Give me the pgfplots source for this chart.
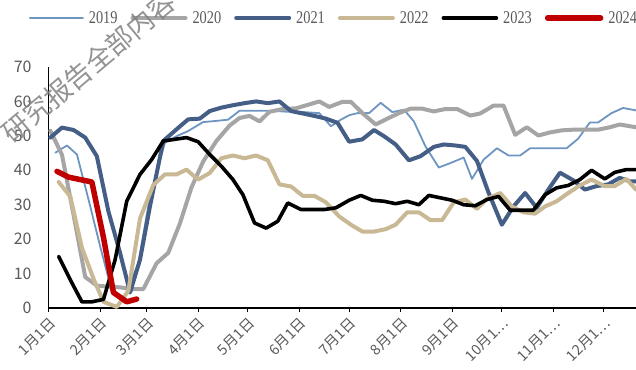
\documentclass[border=0pt]{standalone}
\usepackage{fontspec}
\usepackage{graphicx}
\usepackage{pgfplots}
\pgfplotsset{compat=1.18}
\setmainfont{Liberation Serif}
\newfontfamily\cjk{Noto Sans CJK SC}

\definecolor{cA}{HTML}{6E95C2}
\definecolor{cB}{HTML}{A5A5A5}
\definecolor{cC}{HTML}{445E86}
\definecolor{cD}{HTML}{C8B994}
\definecolor{cE}{HTML}{000000}
\definecolor{cF}{HTML}{C00000}
\definecolor{labelgrey}{HTML}{595959}

\begin{document}
\begin{tikzpicture}
\useasboundingbox (-48.7bp,-62bp) rectangle (587.3bp,308bp);
\begin{axis}[
  at={(0,0)}, anchor=south west,
  scale only axis, width=587.3bp, height=241bp,
  xmin=0, xmax=353.8, ymin=0, ymax=70,
  clip=false,
  axis x line*=bottom, axis y line*=left,
  axis line style={-, black, line width=1.3bp},
  xtick={0,31,59,90,120,151,181,212,243,273,304,334},
  xticklabels={1月1日,2月1日,3月1日,4月1日,5月1日,6月1日,7月1日,8月1日,9月1日,10月1…,11月1…,12月1…},
  xticklabel style={rotate=45, anchor=east, inner sep=0pt, yshift=-9bp, xshift=-3bp,
    font=\cjk\fontsize{14.5}{14.5}\selectfont, text=labelgrey},
  x tick style={black, line width=1.1bp},
  tick align=outside, major tick length=4bp,
  ytick={0,10,...,70},
  y tick style={draw=none},
  yticklabel style={inner sep=0pt, xshift=-13bp,
    font=\cjk\fontsize{16}{16}\selectfont, text=labelgrey},
  /pgf/number format/assume math mode=true,
  every axis plot/.append style={line join=round, line cap=round, mark=none},
  legend columns=6,
  legend style={at={(-0.0335,1.203)}, anchor=west, draw=none, fill=none,
    inner sep=0pt, outer sep=0pt,
    nodes={inner sep=0pt, text=labelgrey},
    font=\fontsize{18}{18}\selectfont,
    /tikz/every odd column/.append style={column sep=5bp},
    /tikz/every even column/.append style={column sep=13bp}},
  legend image code/.code={\draw[#1] (0bp,0bp) -- (53bp,0bp);},
]
% 2019
\addplot[cA, line width=1.8bp] coordinates {
(4,45.1)(11,47.2)(17,44.6)(24,31.5)(31,17.9)(38,5)(45,2.5)(54,13)(61,32.4)(70,48)
(77,49.9)(84,51.4)(93,54)(100,54.3)(108,54.7)(115,57.3)(122,57.3)(130,57.3)(137,57.2)(144,57)
(151,57)(163,56.6)(170,52.8)(176,54.7)(181,56)(186,56.6)(193,56.6)(200,59.6)(207,56.9)(214,57.6)
(220,54.2)(227,46.9)(235,40.8)(242,42.1)(250,43.7)(255,37.5)(262,43.1)(270,46.4)(277,44.3)(284,44.3)
(290,46.4)(298,46.4)(305,46.4)(312,46.4)(319,49.2)(326,53.9)(331,53.9)(339,56.6)(346,58.1)(353.8,57.4)
};
\addlegendentry{\scalebox{0.8}[1]{2019}}
% 2020
\addplot[cB, line width=4bp] coordinates {
(1,51.5)(8,44.5)(15,27)(22,9)(29,6.5)(36,6.2)(43,6)(50,5.5)(57,5.5)(65,13)
(72,16)(79,24.5)(86,35)(93,42.5)(101,48.5)(109,53)(115,55.2)(121,55.8)(127,54.2)(133,57)
(141,57.8)(149,58)(156,59)(163,60)(169,58.4)(177,59.9)(182,59.9)(189,56.6)(197,53.3)(204,55)
(211,56.6)(218,57.9)(225,57.9)(232,57.1)(239,57.8)(246,57.8)(254,55.9)(260,56.5)(268,58.8)(274,58.8)
(281,50.3)(288,52.5)(295,50.1)(302,51)(309,51.6)(316,51.8)(325,51.8)(331,51.8)(338,52.5)(344,53.3)(353.8,52.5)
};
\addlegendentry{\scalebox{0.8}[1]{2020}}
% 2021
\addplot[cC, line width=4bp] coordinates {
(1,49.5)(8,52.4)(15,51.7)(22,49.5)(29,44.1)(36,28)(43,16)(49,4.5)(55,14)(61,29.5)
(69,48.5)(77,51.9)(84,54.8)(91,55)(97,57.2)(104,58.2)(111,58.9)(118,59.5)(125,60)(132,59.5)
(139,60)(146,57.2)(153,56.5)(160,55.8)(167,55)(174,53.8)(181,48.3)(189,49)(196,51.7)(202,49.9)
(209,47.5)(217,42.9)(224,44.1)(232,46.8)(238,47.5)(245,47.2)(251,46.8)(258,42.7)(265,33.5)(273,24.2)
(280,29.5)(287,33.4)(294,29.1)(301,34.4)(308,39.3)(316,37.1)(323,34.4)(330,35.4)(337,35.9)(344,37.8)
(350,36.8)(353.8,36.8)
};
\addlegendentry{\scalebox{0.8}[1]{2021}}
% 2022
\addplot[cD, line width=4bp] coordinates {
(6,36.6)(13,32.4)(20,17.5)(27,8.5)(33,1.8)(41,0.3)(48,5)(55,26)(63,35.7)(70,38.8)
(77,38.8)(83,40.2)(90,37.3)(97,39.2)(104,43.5)(111,44.3)(118,43.5)(125,44.3)(132,42.9)(139,35.9)
(146,35.3)(153,32.6)(160,32.6)(167,30.7)(175,26.6)(182,24.2)(189,22.2)(196,22.2)(203,22.9)(209,24.2)
(216,27.8)(223,27.8)(230,25.5)(237,25.5)(244,30.7)(251,31.5)(258,28.8)(264,31.7)(272,33.4)(279,29.5)
(286,27.8)(293,27.4)(299,29.5)(306,31)(313,33.4)(320,35.6)(327,37.3)(335,35.4)(341,35.4)(348,37.5)(353.8,34.4)
};
\addlegendentry{\scalebox{0.8}[1]{2022}}
% 2023
\addplot[cE, line width=3.6bp] coordinates {
(6,15)(13,8.2)(20,1.8)(26,1.8)(33,2.5)(40,14)(47,31)(55,38.8)(62,43.1)(69,48.5)
(76,49)(83,49.5)(90,48.3)(97,44.6)(104,41.2)(111,37.3)(117,32.9)(124,24.7)(131,23.2)(138,25.2)
(144,30.5)(152,28.6)(159,28.6)(166,28.6)(173,29.1)(181,31.3)(188,32.7)(195,31.3)(202,31)(209,30.3)
(216,31)(223,30)(229,32.7)(236,32)(243,31.3)(250,30)(257,29.7)(264,31.5)(271,32.4)(278,28.4)
(285,28.4)(292,28.4)(299,32.9)(306,34.9)(313,35.6)(320,37.3)(327,40)(335,37.5)(341,39.4)(348,40.2)(353.8,40.2)
};
\addlegendentry{\scalebox{0.8}[1]{2023}}
% 2024
\addplot[cF, line width=5.5bp] coordinates {
(5,39.7)(12,38)(19,37.3)(26,36.6)(33,20.5)(39,4.5)(47,1.8)(53,2.6)
};
\addlegendentry{\scalebox{0.8}[1]{2024}}
\end{axis}
% watermark
\node[rotate=40, text=black!50, opacity=0.85, inner sep=0pt,
  font=\cjk\fontsize{27}{27}\selectfont] at (40bp,241bp) {研究报告全部内容};
\end{tikzpicture}
\end{document}
